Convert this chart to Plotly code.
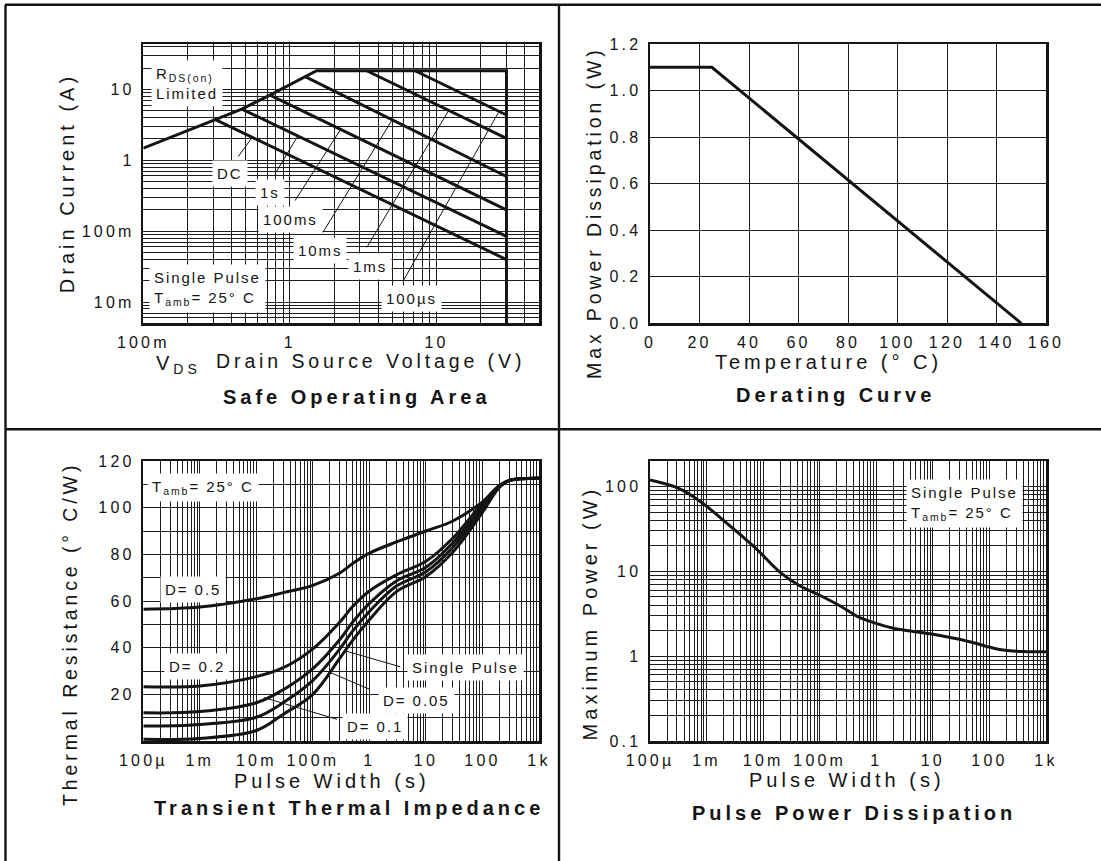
import plotly.graph_objects as go

W, H = 1101, 861

# ------------------------------------------------------------------ data
# Safe Operating Area (drain-source voltage in V, drain current in A)
soa_limit_v = [0.1, 0.308, 0.469, 0.731, 1.27, 1.52, 30, 30]
soa_limit_i = [1.48, 3.78, 5.28, 8.3, 15.1, 18.3, 18.3, 0.005]
soa_pulse_labels = ["DC", "1s", "100ms", "10ms", "1ms", "100µs"]
soa_pulse_v0 = [0.308, 0.469, 0.731, 1.27, 3.34, 7.13]
soa_pulse_i0 = [3.78, 5.28, 8.3, 15.1, 18.3, 18.3]
soa_pulse_v1 = [30, 30, 30, 30, 30, 30]
soa_pulse_i1 = [0.0397, 0.0845, 0.2, 0.59, 2.04, 4.35]
soa_leader_v0 = [0.444, 0.804, 1.084, 1.675, 3.34, 5.94]
soa_leader_i0 = [1.127, 0.678, 0.270, 0.0955, 0.0587, 0.020]
soa_leader_v1 = [0.547, 1.14, 2.20, 4.94, 12.0, 26.4]
soa_leader_i1 = [2.04, 2.25, 2.66, 3.6, 4.9, 4.7]
soa_xtick_vals = [0.1, 1, 10]
soa_xtick_text = ["100m", "1", "10"]
soa_ytick_vals = [0.01, 0.1, 1, 10]
soa_ytick_text = ["10m", "100m", "1", "10"]

# Derating curve (temperature in °C, power in W)
der_temp = [0, 25, 150]
der_power = [1.1, 1.1, 0.0]

# Transient thermal impedance (pulse width in s, thermal resistance in °C/W)
zth_t = [1e-4, 1e-3, 1e-2, 3e-2, 0.1, 0.3, 0.5, 1, 3, 10, 30, 100, 200, 300, 1000]
zth_d05 = [56.5, 57.4, 61, 63.6, 66.7, 72, 76, 80.5, 85.3, 90, 94.3, 102.5, 109.5, 111.7, 112.6]
zth_d02 = [23.3, 23.6, 27.6, 31.4, 39.5, 51, 57.5, 64.3, 71.2, 77, 87, 102, 109.5, 111.7, 112.6]
zth_d01 = [12.1, 12.6, 16.4, 22, 31, 43.5, 50.8, 59, 68.6, 74.5, 85, 100.5, 109.2, 111.7, 112.6]
zth_d005 = [6.4, 7.1, 10.2, 16.5, 26, 39.5, 47, 55.5, 66.4, 72.5, 83, 99.5, 109, 111.7, 112.6]
zth_sp = [0.7, 1.1, 4.5, 11.5, 20, 35.5, 43, 52, 64, 70.5, 81, 98, 108.8, 111.7, 112.6]
zth_leader_t0 = [0.39, 0.175, 0.0136]
zth_leader_r0 = [38.5, 30, 18.6]
zth_leader_t1 = [3.51, 1.0, 0.267]
zth_leader_r1 = [31.8, 22.2, 9.3]
zth_ytick_vals = [20, 40, 60, 80, 100, 120]
pw_tick_vals = [1e-4, 1e-3, 1e-2, 1e-1, 1, 10, 100, 1000]
pw_tick_text = ["100µ", "1m", "10m", "100m", "1", "10", "100", "1k"]

# Pulse power dissipation (pulse width in s, power in W)
ppd_t = [1e-4, 3e-4, 5e-4, 9e-4, 2.6e-3, 7.7e-3, 0.02, 0.045, 0.09, 0.23, 0.45,
         0.9, 2, 10, 40, 150, 450, 1000]
ppd_p = [119, 97, 81, 61.7, 34.2, 18.2, 9.7, 6.7, 5.4, 3.9, 2.97,
         2.48, 2.13, 1.81, 1.51, 1.2, 1.13, 1.13]
ppd_ytick_vals = [0.1, 1, 10, 100]
ppd_ytick_text = ["0.1", "1", "10", "100"]

# ------------------------------------------------------------------ style
INK = "#141414"
GRID = "#1e1e1e"
WIDE = "Liberation Sans, DejaVu Sans"     # wide letter spacing (see post script)
MED = "Liberation Sans, Noto Sans"        # medium letter spacing
TICKFONT = dict(family=WIDE, size=16, color=INK)


def px(x, y):
    return x / W, 1 - y / H


def log_minor(lo, hi, vmin, vmax):
    vals = []
    for d in range(lo, hi + 1):
        for k in range(2, 10):
            v = k * 10.0 ** d
            if vmin <= v <= vmax:
                vals.append(v)
    return vals


def axis(domain, anchor, **kw):
    d = dict(domain=domain, anchor=anchor, showline=True, mirror=True,
             linecolor=INK, linewidth=2.5, showgrid=True, gridcolor=GRID,
             gridwidth=1, zeroline=False, ticks="", tickfont=TICKFONT,
             tickangle=0, fixedrange=True, ticklabelstandoff=3,
             automargin=False)
    d.update(kw)
    return d


colL = [143.3 / W, 539 / W]
colR = [650 / W, 1046 / W]
rowT = [1 - 323.3 / H, 1 - 44 / H]
rowB = [1 - 741 / H, 1 - 461 / H]

fig = go.Figure()


def line(x, y, xa, ya, width=3.0, shape="linear"):
    fig.add_trace(go.Scatter(x=x, y=y, xaxis=xa, yaxis=ya, mode="lines",
                             line=dict(color=INK, width=width, shape=shape,
                                       smoothing=1.0),
                             showlegend=False, hoverinfo="skip"))


def segments(x0, y0, x1, y1):
    xs, ys = [], []
    for a, b, c, d in zip(x0, y0, x1, y1):
        xs += [a, c, None]
        ys += [b, d, None]
    return xs, ys


# Safe operating area
line(soa_limit_v, soa_limit_i, "x", "y")
for v0, i0, v1, i1 in zip(soa_pulse_v0, soa_pulse_i0, soa_pulse_v1, soa_pulse_i1):
    line([v0, v1], [i0, i1], "x", "y")
lx, ly = segments(soa_leader_v0, soa_leader_i0, soa_leader_v1, soa_leader_i1)
line(lx, ly, "x", "y", width=1.0)

# Derating
line(der_temp, der_power, "x2", "y2")

# Transient thermal impedance
for series in (zth_d05, zth_d02, zth_d01, zth_d005, zth_sp):
    line(zth_t, series, "x3", "y3", shape="spline")
lx, ly = segments(zth_leader_t0, zth_leader_r0, zth_leader_t1, zth_leader_r1)
line(lx, ly, "x3", "y3", width=1.0)

# Pulse power dissipation
line(ppd_t, ppd_p, "x4", "y4", shape="spline")

minor_common = dict(showgrid=True, gridcolor=GRID, gridwidth=1, ticks="")

fig.update_layout(
    width=W, height=H, margin=dict(l=0, r=0, t=0, b=0, autoexpand=False),
    paper_bgcolor="white", plot_bgcolor="white", showlegend=False,
    xaxis=axis(colL, "y", type="log", range=[-1, 1.699],
               tickmode="array", tickvals=soa_xtick_vals, ticktext=soa_xtick_text,
               minor=dict(tickmode="array", tickvals=log_minor(-1, 1, 0.1, 50), **minor_common)),
    yaxis=axis(rowT, "x", type="log", range=[-2.3, 1.64],
               tickmode="array", tickvals=soa_ytick_vals, ticktext=soa_ytick_text,
               minor=dict(tickmode="array", tickvals=log_minor(-3, 1, 0.005, 43), **minor_common)),
    xaxis2=axis(colR, "y2", range=[0, 160], tickmode="linear", tick0=0, dtick=20),
    yaxis2=axis(rowT, "x2", range=[0, 1.2], tickmode="linear", tick0=0, dtick=0.2,
                tickformat=".1f"),
    xaxis3=axis(colL, "y3", type="log", range=[-4, 3],
                tickmode="array", tickvals=pw_tick_vals, ticktext=pw_tick_text,
                minor=dict(tickmode="array", tickvals=log_minor(-4, 2, 1e-4, 1e3), **minor_common)),
    yaxis3=axis(rowB, "x3", range=[0, 120], tickmode="array", tickvals=zth_ytick_vals,
                minor=dict(tickmode="linear", tick0=0, dtick=10, **minor_common)),
    xaxis4=axis(colR, "y4", type="log", range=[-4, 3],
                tickmode="array", tickvals=pw_tick_vals, ticktext=pw_tick_text,
                minor=dict(tickmode="array", tickvals=log_minor(-4, 2, 1e-4, 1e3), **minor_common)),
    yaxis4=axis(rowB, "x4", type="log", range=[-1, 2.3],
                tickmode="array", tickvals=ppd_ytick_vals, ticktext=ppd_ytick_text,
                minor=dict(tickmode="array", tickvals=log_minor(-1, 2, 0.1, 200), **minor_common)),
)

anns = []


def ann(text, x, y, family, size, xanchor="center", yanchor="middle",
        bg=None, angle=0, align="center", pad=4):
    ax, ay = px(x, y)
    d = dict(text=text, x=ax, y=ay, xref="paper", yref="paper",
             xanchor=xanchor, yanchor=yanchor, showarrow=False,
             font=dict(family=family, size=size, color=INK),
             textangle=angle, align=align, borderpad=pad)
    if bg:
        d["bgcolor"] = bg
    anns.append(d)


# axis titles
ann("Drain Current (A)", 66.7, 183.5, WIDE, 20, angle=-90)
ann("V<sub>DS</sub>", 151, 364, WIDE, 20, xanchor="left")
ann("Drain Source Voltage (V)", 370, 361, WIDE, 19.5)
ann("Max Power Dissipation (W)", 594, 213, WIDE, 19.5, angle=-90)
ann("Temperature (° C)", 828, 362, WIDE, 20)
ann("Thermal Resistance (° C/W)", 70, 634, WIDE, 19.5, angle=-90)
ann("Pulse Width (s)", 331.5, 781, WIDE, 20)
ann("Maximum Power (W)", 590.4, 613, WIDE, 20, angle=-90)
ann("Pulse Width (s)", 847, 780, WIDE, 20)

# panel titles
ann("<b>Safe Operating Area</b>", 357, 397, WIDE, 20)
ann("<b>Derating Curve</b>", 835, 395, WIDE, 20)
ann("<b>Transient Thermal Impedance</b>", 349, 808, WIDE, 20)
ann("<b>Pulse Power Dissipation</b>", 854, 813, WIDE, 20)

# in-plot labels: safe operating area
ann("R<sub>DS(on)</sub><br>Limited", 151, 84, MED, 15, xanchor="left", bg="white", align="left")
soa_label_pos = [(230, 173), (270, 192.3), (290, 219.3), (320, 250), (370, 266.7), (411.7, 298.3)]
for lab, (lxp, lyp) in zip(soa_pulse_labels, soa_label_pos):
    ann(lab, lxp, lyp, MED, 15, bg="white")
ann("Single Pulse<br>T<sub>amb</sub>= 25° C", 149, 288, MED, 15, xanchor="left",
    bg="white", align="left")

# in-plot labels: transient thermal impedance
ann("T<sub>amb</sub>= 25° C", 147, 487, MED, 15, xanchor="left", bg="white", align="left")
ann("D= 0.5", 193.3, 589.3, MED, 15, bg="white")
ann("D= 0.2", 196.7, 666.7, MED, 15, bg="white")
ann("Single Pulse", 465, 667.7, MED, 15, bg="white")
ann("D= 0.05", 416.7, 700, MED, 15, bg="white")
ann("D= 0.1", 375, 726.7, MED, 15, bg="white")

# in-plot labels: pulse power
ann("Single Pulse<br>T<sub>amb</sub>= 25° C", 906, 503, MED, 15, xanchor="left",
    bg="white", align="left")

fig.update_layout(annotations=anns)

# frame lines around / between the four panels
frame = [((5, 4.7), (W, 4.7)), ((5.5, 4.7), (5.5, H)), ((559, 4.7), (559, H)),
         ((5.5, 429.3), (W, 429.3))]
shapes = []
for (x0, y0), (x1, y1) in frame:
    a0, b0 = px(x0, y0)
    a1, b1 = px(x1, y1)
    shapes.append(dict(type="line", xref="paper", yref="paper", x0=a0, y0=b0,
                       x1=a1, y1=b1, line=dict(color=INK, width=2.4)))
fig.update_layout(shapes=shapes)

post = """
document.body.style.margin = '0';
document.body.style.padding = '0';
document.documentElement.style.overflow = 'hidden';
var gd = document.getElementById('{plot_id}');
var st = document.createElement('style');
st.textContent = 'text[style*="DejaVu"]{letter-spacing:0.2em;} text[style*="Noto"]{letter-spacing:0.13em;}';
document.head.appendChild(st);
var lay = JSON.parse(JSON.stringify(gd.layout));
(lay.annotations || []).forEach(function(a){ if (a.font && a.font.family) { a.font.family = a.font.family + ', sans-serif'; } });
return Plotly.newPlot(gd, gd.data, lay, {displayModeBar: false, staticPlot: true});
"""

fig.write_html("out.html", post_script=post, config={"displayModeBar": False})
